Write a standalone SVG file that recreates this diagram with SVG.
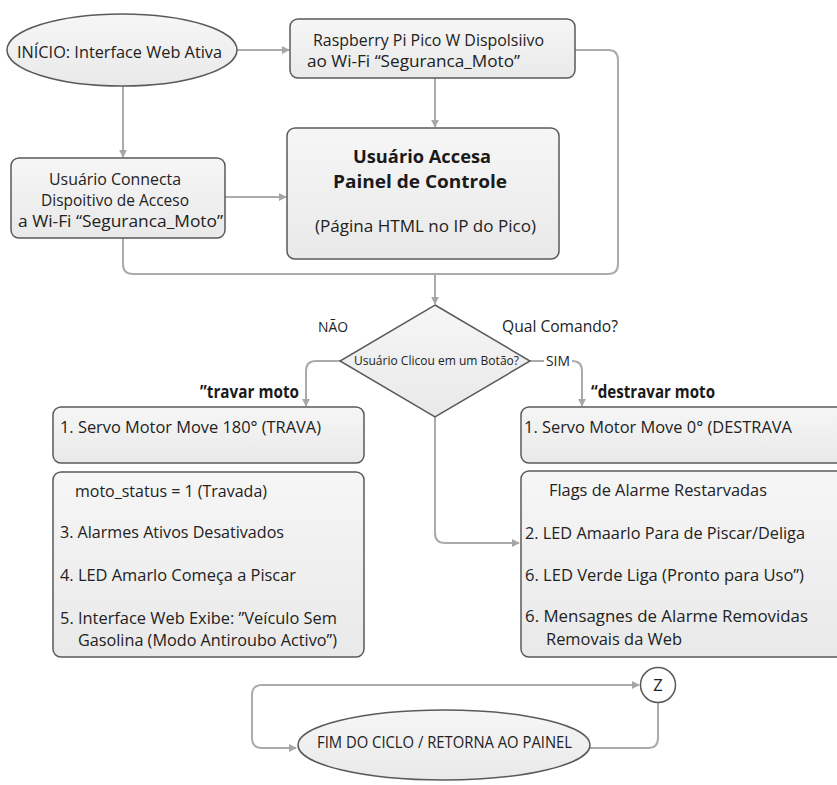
<svg xmlns="http://www.w3.org/2000/svg" width="837" height="785" viewBox="0 0 837 785">
  <defs>
    <linearGradient id="gfill" x1="0" y1="0" x2="0" y2="1">
      <stop offset="0" stop-color="#f6f6f6"/>
      <stop offset="1" stop-color="#e9e9e9"/>
    </linearGradient>
    <marker id="arr" viewBox="0 0 10 10" refX="9" refY="5" markerWidth="8" markerHeight="8" markerUnits="userSpaceOnUse" orient="auto-start-reverse">
      <path d="M0,0 L10,5 L0,10 z" fill="#a6a6a6"/>
    </marker>
  </defs>
  <style>
    .box { fill: url(#gfill); stroke: #5a5a5a; stroke-width: 1.5; }
    .con { fill: none; stroke: #ababab; stroke-width: 2; }
    .t { font-family: "Open Sans", "Liberation Sans", sans-serif; font-size: 16.5px; fill: #222222; }
    .tb { font-family: "Open Sans", "Liberation Sans", sans-serif; font-size: 18px; font-weight: bold; fill: #1a1a1a; }
    .ts { font-family: "Open Sans", "Liberation Sans", sans-serif; font-size: 12px; fill: #222222; }
    .tm { font-family: "Open Sans", "Liberation Sans", sans-serif; font-size: 14px; fill: #222222; }
  </style>
  <rect width="837" height="785" fill="#ffffff"/>

  <g id="connectors">
    <path class="con" d="M237,50 H289" marker-end="url(#arr)"/>
    <path class="con" d="M123,86 V157" marker-end="url(#arr)"/>
    <path class="con" d="M435,78 V127" marker-end="url(#arr)"/>
    <path class="con" d="M225,197 H286" marker-end="url(#arr)"/>
    <path class="con" d="M575,50 H608 Q618,50 618,60 V264 Q618,274 608,274 H435"/>
    <path class="con" d="M123,238 V264 Q123,274 133,274 H435"/>
    <path class="con" d="M435,274 V304" marker-end="url(#arr)"/>
    <path class="con" d="M340,361 H316 Q306,361 306,371 V406" marker-end="url(#arr)"/>
    <path class="con" d="M530,361 H544"/>
    <path class="con" d="M572,361 Q582,361 582,371 V406" marker-end="url(#arr)"/>
    <path class="con" d="M435,417 V533 Q435,543 445,543 H519" marker-end="url(#arr)"/>
    <path class="con" d="M590,748 H648 Q658,748 658,738 V703"/>
    <path class="con" d="M296,748 H262 Q252,748 252,738 V695 Q252,685 262,685 H639" marker-start="url(#arr)" marker-end="url(#arr)"/>
  </g>

  <g id="start">
    <ellipse class="box" cx="122" cy="50" rx="115" ry="36"/>
    <text class="t" x="17" y="58" font-size="18" textLength="205" lengthAdjust="spacingAndGlyphs">INÍCIO: Interface Web Ativa</text>
  </g>

  <g id="raspberry">
    <rect class="box" x="290" y="19" width="285" height="59" rx="8"/>
    <text class="t" x="313" y="46" font-size="17.5" textLength="231" lengthAdjust="spacingAndGlyphs">Raspberry Pi Pico W Dispolsiivo</text>
    <text class="t" x="307" y="67" font-size="17.5" textLength="213" lengthAdjust="spacingAndGlyphs">ao Wi-Fi “Seguranca_Moto”</text>
  </g>

  <g id="usuario-connecta">
    <rect class="box" x="11" y="158" width="214" height="80" rx="8"/>
    <text class="t" x="49" y="185" textLength="132" lengthAdjust="spacingAndGlyphs">Usuário Connecta</text>
    <text class="t" x="41" y="206" textLength="148" lengthAdjust="spacingAndGlyphs">Dispoitivo de Acceso</text>
    <text class="t" x="18" y="227" textLength="205" lengthAdjust="spacingAndGlyphs">a Wi-Fi “Seguranca_Moto”</text>
  </g>

  <g id="painel">
    <rect class="box" x="287" y="128" width="272" height="131" rx="8"/>
    <text class="tb" x="353" y="163" textLength="138" lengthAdjust="spacingAndGlyphs">Usuário Accesa</text>
    <text class="tb" x="333" y="188" textLength="174" lengthAdjust="spacingAndGlyphs">Painel de Controle</text>
    <text class="t" x="315" y="232" textLength="221" lengthAdjust="spacingAndGlyphs">(Página HTML no IP do Pico)</text>
  </g>

  <g id="decisao">
    <polygon class="box" points="435,305 530,361 435,417 340,361"/>
    <text class="ts" x="354" y="365" textLength="165" lengthAdjust="spacingAndGlyphs">Usuário Clicou em um Botão?</text>
  </g>

  <g id="labels">
    <text class="tm" x="318" y="332" textLength="30" lengthAdjust="spacingAndGlyphs">NÃO</text>
    <text class="t" x="502" y="332" textLength="116" lengthAdjust="spacingAndGlyphs">Qual Comando?</text>
    <text class="tm" x="546" y="366" textLength="24" lengthAdjust="spacingAndGlyphs">SIM</text>
    <text class="tb" x="200" y="398" textLength="99" lengthAdjust="spacingAndGlyphs">”travar moto</text>
    <text class="tb" x="591" y="398" textLength="124" lengthAdjust="spacingAndGlyphs">“destravar moto</text>
  </g>

  <g id="travar-1">
    <rect class="box" x="53" y="407" width="311" height="56" rx="8"/>
    <text class="t" x="60" y="433" textLength="261" lengthAdjust="spacingAndGlyphs">1. Servo Motor Move 180° (TRAVA)</text>
  </g>

  <g id="destravar-1">
    <rect class="box" x="521" y="407" width="330" height="56" rx="8"/>
    <text class="t" x="524" y="433" textLength="268" lengthAdjust="spacingAndGlyphs">1. Servo Motor Move 0° (DESTRAVA</text>
  </g>

  <g id="travar-2">
    <rect class="box" x="53" y="472" width="311" height="185" rx="8"/>
    <text class="t" x="75" y="497" textLength="192" lengthAdjust="spacingAndGlyphs">moto_status = 1 (Travada)</text>
    <text class="t" x="60" y="538" textLength="224" lengthAdjust="spacingAndGlyphs">3. Alarmes Ativos Desativados</text>
    <text class="t" x="60" y="581" textLength="236" lengthAdjust="spacingAndGlyphs">4. LED Amarlo Começa a Piscar</text>
    <text class="t" x="60" y="624" textLength="277" lengthAdjust="spacingAndGlyphs">5. Interface Web Exibe: ”Veículo Sem</text>
    <text class="t" x="78" y="646" textLength="259" lengthAdjust="spacingAndGlyphs">Gasolina (Modo Antiroubo Activo”)</text>
  </g>

  <g id="destravar-2">
    <rect class="box" x="521" y="471" width="330" height="186" rx="8"/>
    <text class="t" x="549" y="496" textLength="218" lengthAdjust="spacingAndGlyphs">Flags de Alarme Restarvadas</text>
    <text class="t" x="525" y="539" textLength="280" lengthAdjust="spacingAndGlyphs">2. LED Amaarlo Para de Piscar/Deliga</text>
    <text class="t" x="525" y="581" textLength="279" lengthAdjust="spacingAndGlyphs">6. LED Verde Liga (Pronto para Uso”)</text>
    <text class="t" x="525" y="622" textLength="283" lengthAdjust="spacingAndGlyphs">6. Mensagnes de Alarme Removidas</text>
    <text class="t" x="546" y="645" textLength="136" lengthAdjust="spacingAndGlyphs">Removais da Web</text>
  </g>

  <g id="z">
    <circle cx="658" cy="685" r="17.5" fill="#ffffff" stroke="#5a5a5a" stroke-width="1.5"/>
    <text class="t" x="658" y="691" text-anchor="middle">Z</text>
  </g>

  <g id="fim">
    <ellipse class="box" cx="444" cy="745" rx="146" ry="35"/>
    <text class="t" x="317" y="748" font-size="15.5" textLength="255" lengthAdjust="spacingAndGlyphs">FIM DO CICLO / RETORNA AO PAINEL</text>
  </g>
</svg>
